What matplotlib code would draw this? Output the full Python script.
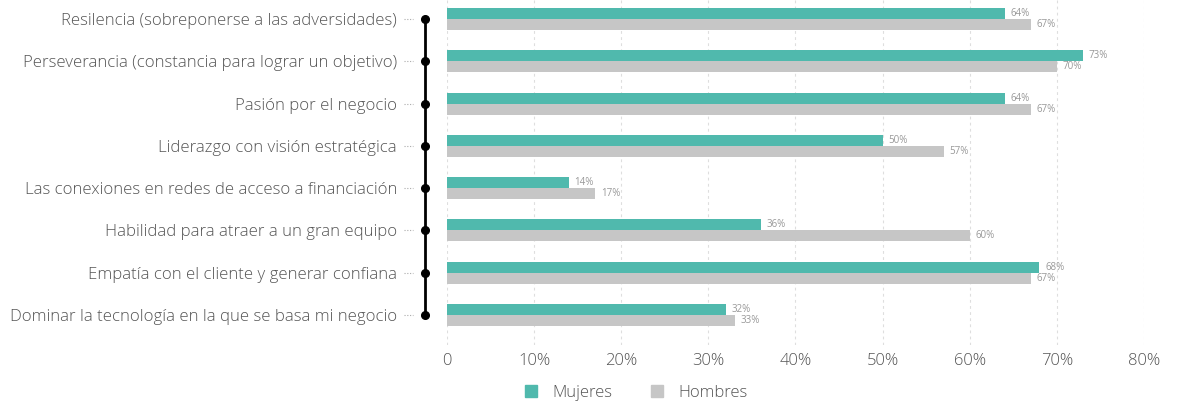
import matplotlib
matplotlib.use("Agg")
import matplotlib.pyplot as plt
import matplotlib.transforms as mtransforms
from matplotlib.lines import Line2D

categories = [
    "Resilencia (sobreponerse a las adversidades)",
    "Perseverancia (constancia para lograr un objetivo)",
    "Pasión por el negocio",
    "Liderazgo con visión estratégica",
    "Las conexiones en redes de acceso a financiación",
    "Habilidad para atraer a un gran equipo",
    "Empatía con el cliente y generar confiana",
    "Dominar la tecnología en la que se basa mi negocio",
]
mujeres = [64, 73, 64, 50, 14, 36, 68, 32]
hombres = [67, 70, 67, 57, 17, 60, 67, 33]
xticks = [0, 10, 20, 30, 40, 50, 60, 70, 80]
xtick_labels = ["0", "10%", "20%", "30%", "40%", "50%", "60%", "70%", "80%"]

teal = "#50b9ad"
grey = "#c6c6c6"
text_col = "#555555"

plt.rcParams["font.family"] = ["Open Sans", "DejaVu Sans"]

fig = plt.figure(figsize=(11.77, 4.03), dpi=100)
ax = fig.add_axes([447 / 1177, 1 - 345 / 403, (1144 - 447) / 1177, 345 / 403])

pos = list(range(len(categories)))
h = 0.26
ax.barh([p - h / 2 for p in pos], mujeres, height=h, color=teal, zorder=3)
ax.barh([p + h / 2 for p in pos], hombres, height=h, color=grey, zorder=3)

for p, m, w in zip(pos, mujeres, hombres):
    ax.annotate(f"{m}%", (m, p - h / 2), xytext=(4, 0), textcoords="offset points",
                va="center", ha="left", fontsize=7, color="#999999")
    ax.annotate(f"{w}%", (w, p + h / 2), xytext=(4, 0), textcoords="offset points",
                va="center", ha="left", fontsize=7, color="#999999")

ax.set_xlim(0, 80)
ax.set_ylim(7.707, -0.449)
ax.set_xticks(xticks)
ax.set_xticklabels(xtick_labels, fontsize=12, color=text_col, fontweight="light")
ax.set_yticks(pos)
ax.set_yticklabels(categories, fontsize=12.1, color=text_col, fontweight="light")
ax.tick_params(axis="x", length=0, pad=5.5)
ax.tick_params(axis="y", length=0, pad=36)
for s in ax.spines.values():
    s.set_visible(False)
ax.grid(axis="x", color="#dedede", linestyle=(0, (2.5, 3)), linewidth=0.8, zorder=0)

# timeline line with dots and dotted leaders
tr = mtransforms.blended_transform_factory(fig.transFigure, ax.transData)
lx = 425 / 1177
ax.plot([lx, lx], [pos[0], pos[-1]], color="black", lw=2, transform=tr, clip_on=False)
ax.plot([lx] * len(pos), pos, "o", color="black", ms=5.5, transform=tr, clip_on=False)
for p in pos:
    ax.plot([404 / 1177, 413 / 1177], [p, p], color="#aaaaaa", lw=0.8,
            linestyle=(0, (1, 1.5)), transform=tr, clip_on=False)

handles = [
    Line2D([], [], marker="s", color=teal, linestyle="none", markersize=9),
    Line2D([], [], marker="s", color=grey, linestyle="none", markersize=9),
]
fig.legend(handles, ["Mujeres", "Hombres"], loc="center", bbox_to_anchor=(631 / 1177, 1 - 393 / 403),
           ncol=2, frameon=False, labelcolor=text_col, handletextpad=0.3,
           columnspacing=1.7, prop={"weight": "light", "size": 12})

fig.savefig("out.png", dpi=100)
